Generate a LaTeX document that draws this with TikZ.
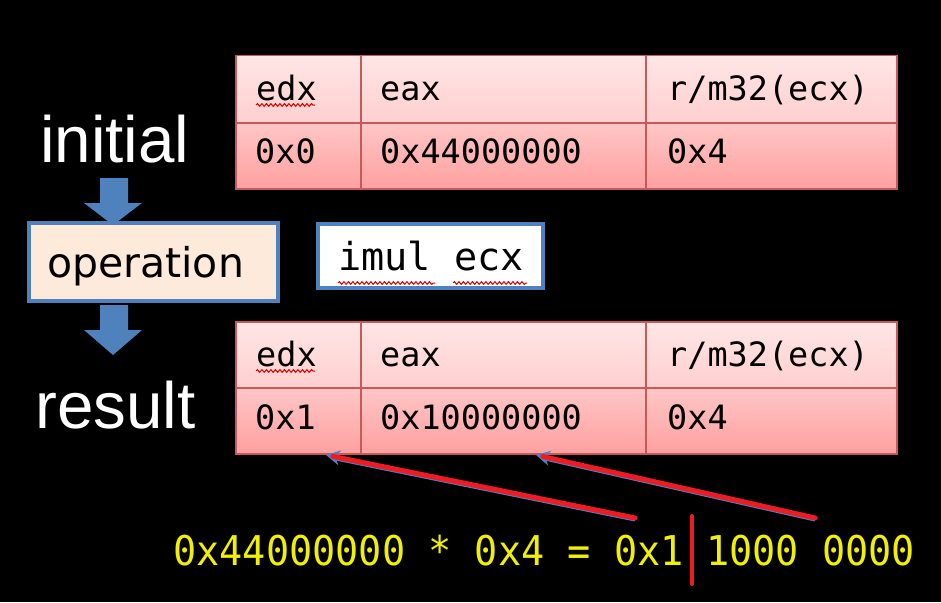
\documentclass[tikz,border=0pt]{standalone}
\usepackage{fontspec}
\setmainfont{Liberation Sans}
\newfontfamily\monof{DejaVu Sans Mono}
\newfontfamily\monoeq[FakeStretch=0.94]{DejaVu Sans Mono}
\newfontfamily\dvs{DejaVu Sans}
\usetikzlibrary{arrows.meta,decorations.pathmorphing,calc}
\definecolor{pinkA}{HTML}{FFE6E6}
\definecolor{pinkB}{HTML}{FFCFCF}
\definecolor{pinkC}{HTML}{FFC6C6}
\definecolor{pinkD}{HTML}{FFA0A0}
\definecolor{cellline}{HTML}{C65A5A}
\definecolor{flowblue}{HTML}{4F81BD}
\definecolor{opfill}{HTML}{FDEADA}
\definecolor{eqyellow}{HTML}{F0F000}
\definecolor{hired}{HTML}{ED1C24}
\begin{document}
\begin{tikzpicture}[x=1pt,y=-1pt,
  cellbase/.style={draw=cellline, line width=1.5pt, inner sep=0pt, anchor=north west},
  headcell/.style={cellbase, top color=pinkA, bottom color=pinkB},
  valcell/.style={cellbase, top color=pinkC, bottom color=pinkD},
  celltext/.style={anchor=base west, inner sep=0pt, text=black, font=\monof\fontsize{33.5}{40}\selectfont},
  bigword/.style={anchor=base west, inner sep=0pt, text=white, font=\fontsize{65.5}{78}\selectfont},
  squig/.style={draw=red!85!black, line width=1pt, decorate, decoration={snake, amplitude=1.4pt, segment length=4.5pt}},
  eqtext/.style={anchor=base west, inner sep=0pt, text=eqyellow, font=\monoeq\fontsize{41}{48}\selectfont},
  bluebox/.style={draw=flowblue, line width=4pt, inner sep=0pt},
  blockarrow/.style={fill=flowblue},
  redline/.style={draw=hired, line width=5pt, line cap=round},
  bluetip/.style={draw=flowblue, line width=3pt, -{Stealth[length=14pt,width=15pt]}}
]
\fill[black] (0,0) rectangle (941,602);
\useasboundingbox (0,0) rectangle (941,602);

% ---- table 1 (initial) ----
\node[headcell, minimum width=125pt, minimum height=67pt] (ia1) at (235,55) {};
\node[headcell, minimum width=285pt, minimum height=67pt] (ia2) at (360,55) {};
\node[headcell, minimum width=251pt, minimum height=67pt] (ia3) at (645,55) {};
\node[valcell, minimum width=125pt, minimum height=66pt] (ib1) at (235,122) {};
\node[valcell, minimum width=285pt, minimum height=66pt] (ib2) at (360,122) {};
\node[valcell, minimum width=251pt, minimum height=66pt] (ib3) at (645,122) {};
\node[celltext] (ta1) at (256,100) {edx};
\node[celltext] (ta2) at (380,100) {eax};
\node[celltext] (ta3) at (667,100) {r/m32(ecx)};
\node[celltext] (tb1) at (255,163) {0x0};
\node[celltext] (tb2) at (380,163) {0x44000000};
\node[celltext] (tb3) at (667,163) {0x4};
\draw[squig] (256,105) -- (315,105);

% ---- table 2 (result) ----
\node[headcell, minimum width=125pt, minimum height=66pt] (ra1) at (235,321) {};
\node[headcell, minimum width=285pt, minimum height=66pt] (ra2) at (360,321) {};
\node[headcell, minimum width=251pt, minimum height=66pt] (ra3) at (645,321) {};
\node[valcell, minimum width=125pt, minimum height=66pt] (rb1) at (235,387) {};
\node[valcell, minimum width=285pt, minimum height=66pt] (rb2) at (360,387) {};
\node[valcell, minimum width=251pt, minimum height=66pt] (rb3) at (645,387) {};
\node[celltext] (sa1) at (256,366) {edx};
\node[celltext] (sa2) at (380,366) {eax};
\node[celltext] (sa3) at (667,366) {r/m32(ecx)};
\node[celltext] (sb1) at (255,429) {0x1};
\node[celltext] (sb2) at (380,429) {0x10000000};
\node[celltext] (sb3) at (667,429) {0x4};
\draw[squig] (256,371) -- (315,371);

% ---- left flow ----
\node[bigword] (initial) at (40,162) {initial};
\node[bigword] (result) at (35,428) {result};
\node[bluebox, fill=opfill, minimum width=249pt, minimum height=78pt] (op) at (153.5,262) {};
\node[anchor=base west, inner sep=0pt, font=\dvs\fontsize{41}{49}\selectfont] (optext) at (47,277) {operation};
\fill[blockarrow] (100,178) -- (128,178) -- (128,203) -- (142,203) -- (113,225) -- (84,203) -- (100,203) -- cycle;
\fill[blockarrow] (100,305) -- (128,305) -- (128,330) -- (142,330) -- (113,355) -- (84,330) -- (100,330) -- cycle;

% ---- instruction box ----
\node[bluebox, fill=white, minimum width=225pt, minimum height=64pt] (instr) at (430.5,256) {};
\node[anchor=base west, inner sep=0pt, text=black, font=\monof\fontsize{38.5}{46}\selectfont] (instrtext) at (338,270) {imul ecx};
\draw[squig] (338,283) -- (435,283);
\draw[squig] (453,283) -- (527,283);

% ---- equation ----
\node[eqtext] (eqa) at (173,565) {0x44000000 * 0x4 = 0x1};
\node[eqtext] (eqb) at (706,565) {1000 0000};
\coordinate (bartop) at (692,516);
\coordinate (barbot) at (692,584);
\draw[hired, line width=4pt, line cap=round] (bartop) -- (barbot);

% ---- arrows to result ----
\coordinate (s1) at (635,518);
\coordinate (e1) at (326,455);
\coordinate (s2) at (815,518);
\coordinate (e2) at (536,455);
\draw[flowblue, line width=4pt] ([yshift=-1.5pt]s1) -- ([yshift=-1.5pt]$(e1)!10pt!(s1)$);
\draw[flowblue, line width=4pt] ([yshift=-1.5pt]s2) -- ([yshift=-1.5pt]$(e2)!10pt!(s2)$);
\draw[bluetip] (s1) -- (e1);
\draw[bluetip] (s2) -- (e2);
\draw[redline] (s1) -- ($(e1)!7pt!(s1)$);
\draw[redline] (s2) -- ($(e2)!7pt!(s2)$);
\end{tikzpicture}
\end{document}
